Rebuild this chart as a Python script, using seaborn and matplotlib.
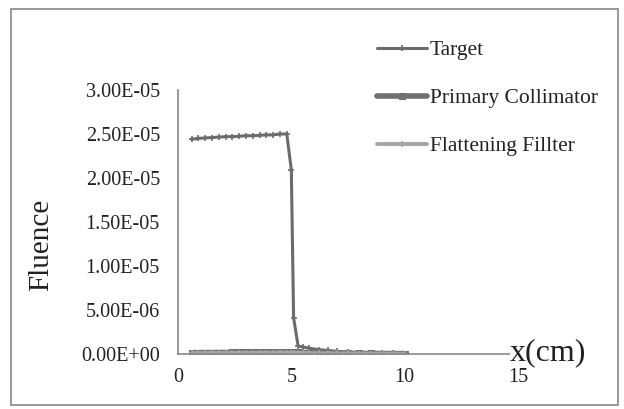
import matplotlib
matplotlib.use("Agg")
import matplotlib.pyplot as plt
import seaborn as sns
import pandas as pd
from matplotlib.patches import Rectangle

x_cm = [0.6, 0.9, 1.2, 1.5, 1.8, 2.1, 2.4, 2.7, 3.0, 3.3, 3.6, 3.9, 4.2, 4.5, 4.8,
        5.0, 5.1, 5.3, 5.5, 5.8, 6.2, 6.6, 7.0, 7.5, 8.0, 8.5, 9.0, 9.5, 10.0]
target = [2.44e-5, 2.45e-5, 2.455e-5, 2.46e-5, 2.465e-5, 2.47e-5, 2.47e-5, 2.475e-5,
          2.48e-5, 2.48e-5, 2.485e-5, 2.49e-5, 2.49e-5, 2.50e-5, 2.50e-5,
          2.09e-5, 4.1e-6, 9e-7, 8e-7, 6.5e-7, 5e-7, 4e-7, 3e-7, 2e-7, 1.5e-7,
          1e-7, 8e-8, 6e-8, 5e-8]
primary = [1.5e-7, 1.5e-7, 1.6e-7, 1.6e-7, 1.7e-7, 1.7e-7, 1.8e-7, 1.8e-7, 1.9e-7,
           1.9e-7, 2.0e-7, 2.0e-7, 2.1e-7, 2.1e-7, 2.2e-7, 2.2e-7, 2.0e-7, 1.8e-7,
           1.6e-7, 1.4e-7, 1.2e-7, 1.0e-7, 9e-8, 8e-8, 7e-8, 6e-8, 5e-8, 5e-8, 5e-8]
flattening = [1.0e-7, 1.0e-7, 1.0e-7, 1.1e-7, 1.1e-7, 1.1e-7, 1.2e-7, 1.2e-7, 1.2e-7,
              1.3e-7, 1.3e-7, 1.3e-7, 1.4e-7, 1.4e-7, 1.4e-7, 1.4e-7, 1.3e-7, 1.2e-7,
              1.1e-7, 1.0e-7, 9e-8, 8e-8, 7e-8, 6e-8, 5e-8, 5e-8, 4e-8, 4e-8, 4e-8]
series_names = ["Target", "Primary Collimator", "Flattening Fillter"]
y_ticks = [0, 5e-6, 1e-5, 1.5e-5, 2e-5, 2.5e-5, 3e-5]
y_labels = ["0.00E+00", "5.00E-06", "1.00E-05", "1.50E-05", "2.00E-05", "2.50E-05", "3.00E-05"]
x_ticks = [0, 5, 10, 15]

sns.set_style("white")
plt.rcParams["font.family"] = ["Liberation Serif", "DejaVu Serif"]

df = pd.DataFrame({"x": x_cm, "Target": target, "Primary Collimator": primary,
                   "Flattening Fillter": flattening})

fig = plt.figure(figsize=(6.24, 4.09), dpi=100)
ax = fig.add_axes([178/624, 1-354/409, (518-178)/624, (354-90)/409])

styles = {
    "Target": dict(color="#6b6b6b", linewidth=2.2, marker="+", markersize=5,
                   markeredgewidth=1.2, markeredgecolor="#6b6b6b"),
    "Primary Collimator": dict(color="#707070", linewidth=4.0, marker="s", markersize=4,
                               markeredgecolor="#707070"),
    "Flattening Fillter": dict(color="#a6a6a6", linewidth=2.8, marker="+", markersize=5,
                               markeredgewidth=1.2, markeredgecolor="#a6a6a6"),
}
for name in series_names:
    sns.lineplot(data=df, x="x", y=name, ax=ax, label=name, **styles[name])

ax.set_xlim(0, 15)
ax.set_ylim(0, 3e-5)
ax.set_xticks(x_ticks)
ax.set_xticklabels([str(t) for t in x_ticks], fontsize=14.5, color="#222222")
ax.set_yticks(y_ticks)
ax.set_yticklabels(y_labels, fontsize=14.5, color="#222222")
ax.tick_params(axis="both", direction="out", length=5, width=1, color="#888888")
ax.tick_params(axis="y", pad=8)
ax.tick_params(axis="x", pad=5)
for s in ["top", "right"]:
    ax.spines[s].set_visible(False)
for s in ["left", "bottom"]:
    ax.spines[s].set_color("#888888")
    ax.spines[s].set_linewidth(1.2)
ax.set_xlabel("")
ax.set_ylabel("")

fig.text(41/624, 1-245/409, "Fluence", rotation=90, fontsize=21, ha="center", va="center", color="#222222")
fig.text(548/624, 1-353/409, "x(cm)", fontsize=23, ha="center", va="center", color="#222222",
         bbox=dict(facecolor="white", edgecolor="none", pad=0))

leg = ax.legend(loc="upper left", bbox_to_anchor=(377/624, 1-40/409), bbox_transform=fig.transFigure,
                frameon=False, fontsize=15.5, handlelength=2.3, handletextpad=0.15,
                labelspacing=1.3, borderpad=0, borderaxespad=0)
for t in leg.get_texts():
    t.set_color("#222222")

fig.add_artist(Rectangle((11/624, 1-405/409), (618-11)/624, (405-9)/409, transform=fig.transFigure,
                         fill=False, edgecolor="#888888", linewidth=1.2))

fig.savefig("out.png", dpi=100)
